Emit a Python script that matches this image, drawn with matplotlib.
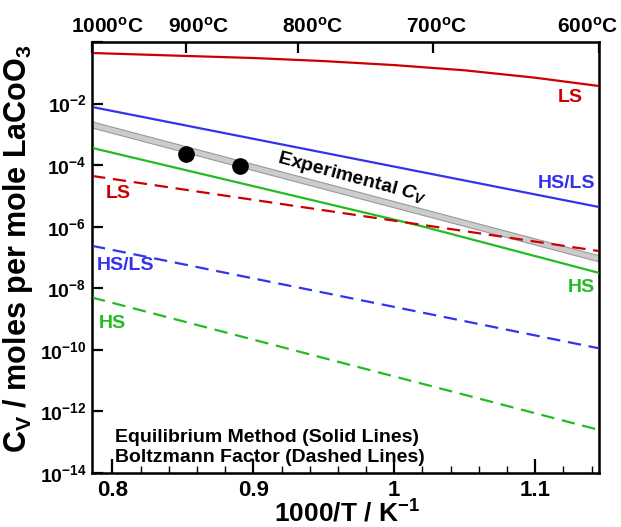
import matplotlib
matplotlib.use("Agg")
import matplotlib.pyplot as plt
import matplotlib.transforms as mtransforms
import numpy as np

plt.rcParams['font.family'] = ['Liberation Sans', 'DejaVu Sans']
plt.rcParams['font.weight'] = 'bold'
plt.rcParams['axes.labelweight'] = 'bold'
plt.rcParams['mathtext.fontset'] = 'custom'
plt.rcParams['mathtext.rm'] = 'Liberation Sans:bold'
plt.rcParams['mathtext.bf'] = 'Liberation Sans:bold'
plt.rcParams['mathtext.it'] = 'Liberation Sans:bold:italic'
plt.rcParams['mathtext.default'] = 'bf'

# x range: 1000 C .. 600 C expressed as 1000/T
x_lo = 1000 / 1273.15
x_hi = 1000 / 873.15

# equilibrium method (solid), log10 values
ls_x = [x_lo, 0.85, 0.90, 0.95, 1.00, 1.05, 1.10, x_hi]
ls_log = [-0.357, -0.45, -0.52, -0.62, -0.75, -0.92, -1.16, -1.43]
hsls_x = [x_lo, x_hi]
hsls_log = [-2.11, -5.36]
hs_x = [x_lo, 0.8905, 1.0183, x_hi]
hs_log = [-3.44, -4.58, -5.97, -7.50]

# boltzmann factor (dashed)
ls_b_x = [x_lo, x_hi]
ls_b_log = [-4.35, -6.79]
hsls_b_x = [x_lo, x_hi]
hsls_b_log = [-6.62, -9.95]
hs_b_x = [x_lo, x_hi]
hs_b_log = [-8.30, -12.6]

# experimental band
exp_x = [x_lo, x_hi]
exp_mid = [-2.68, -7.03]
exp_half = 0.10

# measured points
pts_x = [0.8524, 0.8905]
pts_y = [2.3e-4, 9.4e-5]

top_temps = [1000, 900, 800, 700, 600]
top_shift = [15, 12, 14, 3, -12]   # label offsets in px

red = '#cc0000'
blue = '#3333ee'
green = '#22bb22'

fig = plt.figure(figsize=(6.21, 5.27), dpi=100)
ax = fig.add_axes([92/621, 54/527, 507/621, 431/527])

ex = np.array(exp_x)
em = np.array(exp_mid)
ax.fill_between(ex, 10**(em - exp_half), 10**(em + exp_half),
                facecolor='#cccccc', edgecolor='#999999', linewidth=0.8, zorder=2)

ax.plot(ls_x, 10**np.array(ls_log), color=red, lw=1.6, zorder=3)
ax.plot(hsls_x, 10**np.array(hsls_log), color=blue, lw=1.6, zorder=3)
ax.plot(hs_x, 10**np.array(hs_log), color=green, lw=1.6, zorder=3)

dash = (0, (6, 3.5))
ax.plot(ls_b_x, 10**np.array(ls_b_log), color=red, lw=1.6, ls=dash, zorder=3)
ax.plot(hsls_b_x, 10**np.array(hsls_b_log), color=blue, lw=1.6, ls=dash, zorder=3)
ax.plot(hs_b_x, 10**np.array(hs_b_log), color=green, lw=1.6, ls=dash, zorder=3)

ax.plot(pts_x, pts_y, 'o', color='black', ms=11, zorder=4)

ax.set_yscale('log')

yt = [10.0**e for e in range(-14, 1, 2)]
ax.set_yticks(yt)
ax.set_yticklabels([r'$10^{%d}$' % e for e in range(-14, 0, 2)] + [''])
ax.yaxis.set_minor_locator(matplotlib.ticker.NullLocator())
ax.set_xticks([0.8, 0.9, 1.0, 1.1])
ax.set_xticklabels(['0.8', '0.9', '1', '1.1'])
ax.set_xticks(np.arange(0.80, 1.15, 0.02), minor=True)
ax.set_xlim(x_lo, x_hi)
ax.set_ylim(1e-14, 1)

ax.tick_params(axis='y', which='major', direction='in', width=1.6,
               length=8, pad=4, labelsize=14)
ax.tick_params(axis='x', which='major', direction='in', width=1.6,
               length=10, pad=5, labelsize=16)
ax.tick_params(axis='x', which='minor', direction='in', length=5, width=1.0)
for s in ax.spines.values():
    s.set_linewidth(1.8)

top = ax.twiny()
top.set_xticks([1000 / (t + 273.15) for t in top_temps])
top.set_xticklabels([r'%d$^{\mathbf{o}}$C' % t for t in top_temps])
top.set_xlim(x_lo, x_hi)
top.tick_params(axis='x', direction='in', length=8, width=1.6, labelsize=15, pad=4)
top.xaxis.set_minor_locator(matplotlib.ticker.NullLocator())
for tl, dx in zip(top.get_xticklabels(), top_shift):
    tl.set_transform(tl.get_transform() +
                     mtransforms.ScaledTranslation(dx / 100, 0, fig.dpi_scale_trans))

ax.set_xlabel(r'1000/T / K$^{\mathbf{-1}}$', fontsize=19)
ax.xaxis.set_label_coords((347 - 92) / 507, (473 - 500) / 431)
ax.set_ylabel(r'C$_V$ / moles per mole LaCoO$_3$', fontsize=22)
ax.yaxis.set_label_coords((35 - 92) / 507, 0.52)

# curve labels (pixel positions converted to axes fraction)
def lab(px, py, s, c, ha='center'):
    ax.text((px - 92) / 507, (473 - py) / 431, s, color=c, fontsize=14,
            ha=ha, va='center', transform=ax.transAxes, zorder=5)

lab(583, 98, 'LS', red, 'right')
lab(595, 183, 'HS/LS', blue, 'right')
lab(595, 287, 'HS', green, 'right')
lab(118, 193, 'LS', red)
lab(125, 266, 'HS/LS', blue)
lab(112, 323, 'HS', green)

ax.text((352 - 92) / 507, (473 - 178) / 431, r'Experimental $\mathit{C}_{\mathit{V}}$',
        fontsize=14, rotation=-15, ha='center', va='center',
        transform=ax.transAxes, zorder=5)

ax.text((115 - 92) / 507, (473 - 437) / 431, 'Equilibrium Method (Solid Lines)',
        fontsize=14, ha='left', va='center', transform=ax.transAxes)
ax.text((115 - 92) / 507, (473 - 458) / 431, 'Boltzmann Factor (Dashed Lines)',
        fontsize=14, ha='left', va='center', transform=ax.transAxes)

fig.savefig('out.png', dpi=100)
